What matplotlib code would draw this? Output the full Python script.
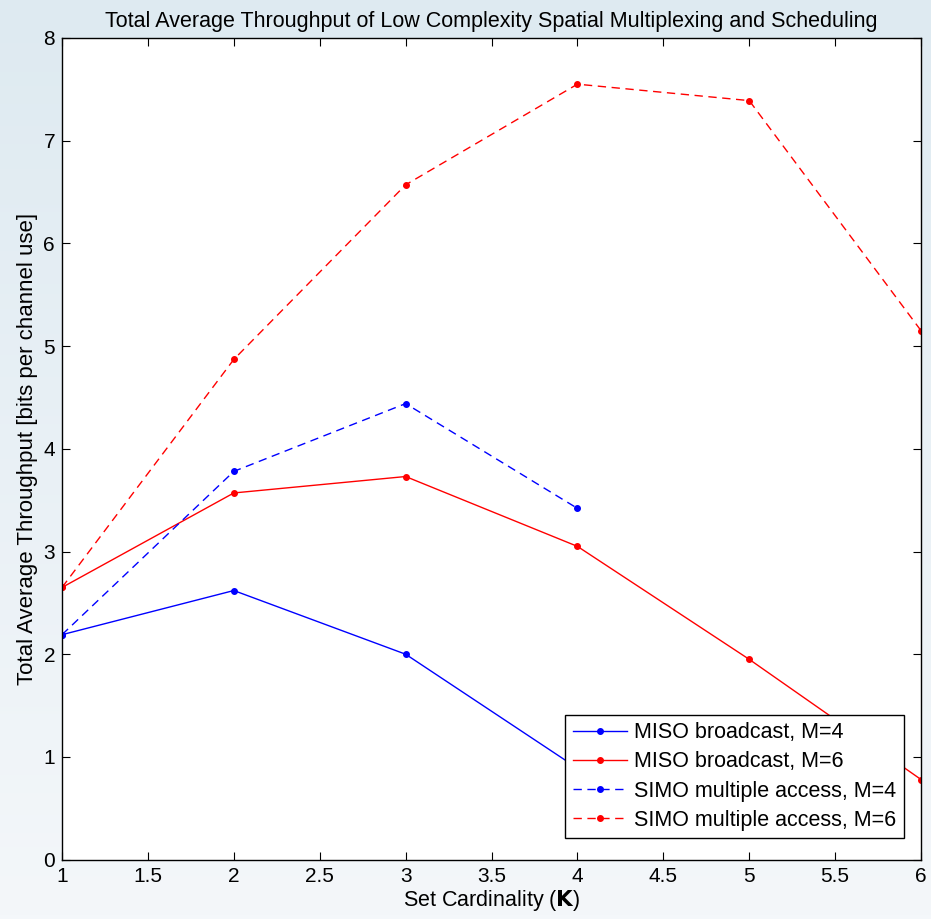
import numpy as np
import matplotlib.pyplot as plt

plt.rcParams['font.family'] = ['Liberation Sans', 'DejaVu Sans']

# set cardinality K
k_m4 = [1, 2, 3, 4]
k_m6 = [1, 2, 3, 4, 5, 6]

miso_m4 = [2.19, 2.62, 2.00, 0.89]
miso_m6 = [2.65, 3.57, 3.73, 3.05, 1.95, 0.78]
simo_m4 = [2.19, 3.78, 4.44, 3.42]
simo_m6 = [2.65, 4.87, 6.57, 7.55, 7.39, 5.15]

fig = plt.figure(figsize=(9.31, 9.19), dpi=100)

# light blue gradient background
bg = fig.add_axes([0, 0, 1, 1], zorder=-10)
grad = np.linspace(0, 1, 256).reshape(-1, 1)
top = np.array([222, 234, 241]) / 255
bot = np.array([244, 247, 250]) / 255
img = top + (bot - top) * grad[:, :, None]
bg.imshow(img, aspect='auto', extent=[0, 1, 0, 1])
bg.set_axis_off()

ax = fig.add_axes([0.0666, 0.0646, 0.9227, 0.8941])
ax.set_facecolor('white')

ax.plot(k_m4, miso_m4, color='blue', lw=1, marker='o', ms=4, label='MISO broadcast, M=4')
ax.plot(k_m6, miso_m6, color='red', lw=1, marker='o', ms=4, label='MISO broadcast, M=6')
ax.plot(k_m4, simo_m4, color='blue', lw=1, marker='o', ms=4, dashes=(6, 4),
        label='SIMO multiple access, M=4')
ax.plot(k_m6, simo_m6, color='red', lw=1, marker='o', ms=4, dashes=(6, 4),
        label='SIMO multiple access, M=6')

ax.set_xlim(1, 6)
ax.set_ylim(0, 8)
ax.set_xticks(np.arange(1, 6.01, 0.5))
ax.set_xticklabels(['1', '1.5', '2', '2.5', '3', '3.5', '4', '4.5', '5', '5.5', '6'])
ax.set_yticks(range(9))
ax.tick_params(direction='in', top=True, right=True, length=6, width=0.8,
               labelsize=15, pad=5)
for s in ax.spines.values():
    s.set_linewidth(1)

ax.set_xlabel(r'Set Cardinality ($\mathbf{K}$)', fontsize=15.5, labelpad=2)
ax.set_ylabel('Total Average Throughput [bits per channel use]', fontsize=16, labelpad=4)
ax.set_title('Total Average Throughput of Low Complexity Spatial Multiplexing and Scheduling',
             fontsize=15.5, pad=8)

leg = ax.legend(loc='lower right', bbox_to_anchor=(0.98, 0.026), fontsize=15.5,
                fancybox=False, framealpha=1, edgecolor='black',
                handlelength=2.5, handletextpad=0.35, borderpad=0.35, labelspacing=0.38,
                borderaxespad=0)
leg.get_frame().set_linewidth(1)

fig.savefig('out.png', dpi=100)
